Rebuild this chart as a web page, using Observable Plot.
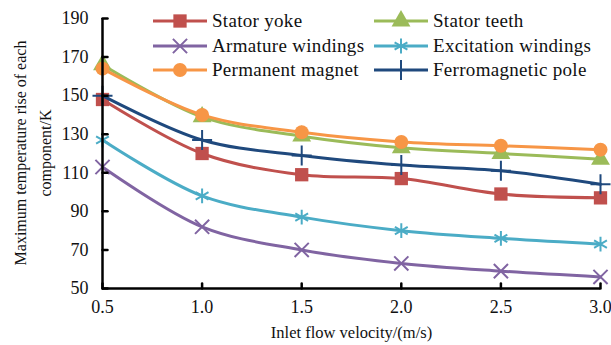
<!DOCTYPE html>
<html><head><meta charset="utf-8">
<script src="https://cdn.jsdelivr.net/npm/d3@7"></script>
<script src="https://cdn.jsdelivr.net/npm/@observablehq/plot@0.6"></script>
<style>
body{margin:0;background:#fff;}
#wrap{position:relative;width:611px;height:345px;font-family:"Liberation Serif","Times New Roman",serif;}
.item{position:absolute;display:flex;align-items:center;font-size:19px;letter-spacing:0.3px;color:#111;white-space:nowrap;height:22px;line-height:22px;}
.item svg{margin-right:5px;flex:none;}
#ytitle{position:absolute;left:33px;top:153px;width:300px;transform:translate(-50%,-50%) rotate(-90deg);text-align:center;font-size:16px;line-height:25px;color:#111;white-space:nowrap;}
</style></head><body><div id="wrap"></div>
<script>
const velocity = [0.5, 1.0, 1.5, 2.0, 2.5, 3.0];
const seriesNames = ["Stator yoke", "Stator teeth", "Armature windings", "Excitation windings", "Permanent magnet", "Ferromagnetic pole"];
const statorYoke = [148, 120, 109, 107, 99, 97];
const statorTeeth = [166, 139, 129, 123, 120, 117];
const armatureWindings = [113, 82, 70, 63, 59, 56];
const excitationWindings = [127, 98, 87, 80, 76, 73];
const permanentMagnet = [164, 140, 131, 126, 124, 122];
const ferromagneticPole = [150, 127, 119, 114, 111, 104];
const yTicks = [50, 70, 90, 110, 130, 150, 170, 190];
const xTicks = [0.5, 1.0, 1.5, 2.0, 2.5, 3.0];
const xTitle = "Inlet flow velocity/(m/s)";
const yTitleLines = ["Maximum temperature rise of each", "component/K"];

const allValues = [statorYoke, statorTeeth, armatureWindings, excitationWindings, permanentMagnet, ferromagneticPole];
const colors = ["#C0504D", "#9BBB59", "#8064A2", "#4BACC6", "#F79646", "#1F497D"];
const symbols = ["square", "triangle", "times", "asterisk", "circle", "plus"];
const filled = [true, true, false, false, true, false];
const radii = [7.5, 7, 6.5, 7, 7, 6.5];

const rows = [];
seriesNames.forEach((s, i) => velocity.forEach((v, j) => rows.push({series: s, v, t: allValues[i][j]})));

const lineShape = {draw(ctx, l) { ctx.moveTo(0, 0); ctx.lineTo(0, -l); }};

const marks = [];
seriesNames.forEach((s, i) => {
  const data = rows.filter(d => d.series === s);
  marks.push(Plot.line(data, {x: "v", y: "t", stroke: colors[i], strokeWidth: 3, curve: "catmull-rom"}));
  marks.push(Plot.dot(data, {x: "v", y: "t", symbol: () => symbols[i], r: radii[i],
    fill: filled[i] ? colors[i] : "none", stroke: colors[i], strokeWidth: filled[i] ? 0 : 2}));
});

const plot = Plot.plot({
  width: 611, height: 345,
  marginLeft: 102, marginRight: 11, marginTop: 18, marginBottom: 57,
  style: {fontFamily: '"Liberation Serif","Times New Roman",serif', fontSize: "18px", color: "#111", background: "#fff", overflow: "visible"},
  x: {domain: [0.5, 3.0]},
  y: {domain: [50, 190]},
  symbol: {type: "identity"},
  marks: [
    ...marks,
    Plot.ruleX([0.5], {stroke: "#000", strokeWidth: 2.5}),
    Plot.ruleY([50], {stroke: "#000", strokeWidth: 2.5}),
    Plot.vector(yTicks, {x: 0.5, y: d => d, length: 5, rotate: 90, anchor: "start", shape: lineShape, stroke: "#000", strokeWidth: 2.5}),
    Plot.vector(xTicks, {x: d => d, y: 50, length: 5, rotate: 0, anchor: "start", shape: lineShape, stroke: "#000", strokeWidth: 2.5}),
    Plot.axisY(yTicks, {tickSize: 0, tickPadding: 14, label: null, fontSize: 18, tickFormat: d => String(d)}),
    Plot.axisX(xTicks, {tickSize: 0, tickPadding: 12, label: null, fontSize: 18, tickFormat: d => d.toFixed(1)}),
    Plot.text([xTitle], {frameAnchor: "bottom", lineAnchor: "middle", dy: 44, text: d => d, fontSize: 16.5})
  ]
});

const wrap = document.getElementById("wrap");
wrap.appendChild(plot);

const yt = document.createElement("div");
yt.id = "ytitle";
yt.innerHTML = yTitleLines.join("<br>");
wrap.appendChild(yt);

const symMap = {square: d3.symbolSquare, triangle: d3.symbolTriangle, times: d3.symbolTimes, asterisk: d3.symbolAsterisk, circle: d3.symbolCircle, plus: d3.symbolPlus};
const legendPos = [[153, 10], [374, 10], [153, 35], [374, 35], [153, 59], [374, 59]];
seriesNames.forEach((s, i) => {
  const div = document.createElement("div");
  div.className = "item";
  div.style.left = legendPos[i][0] + "px";
  div.style.top = legendPos[i][1] + "px";
  const path = d3.symbol().type(symMap[symbols[i]]).size(Math.PI * radii[i] * radii[i])();
  const sym = filled[i]
    ? `<path d="${path}" transform="translate(27,11)" fill="${colors[i]}"/>`
    : `<path d="${path}" transform="translate(27,11)" fill="none" stroke="${colors[i]}" stroke-width="2"/>`;
  div.innerHTML = `<svg width="54" height="22"><line x1="0" x2="54" y1="11" y2="11" stroke="${colors[i]}" stroke-width="3"/>${sym}</svg><span>${s}</span>`;
  wrap.appendChild(div);
});
</script></body></html>
